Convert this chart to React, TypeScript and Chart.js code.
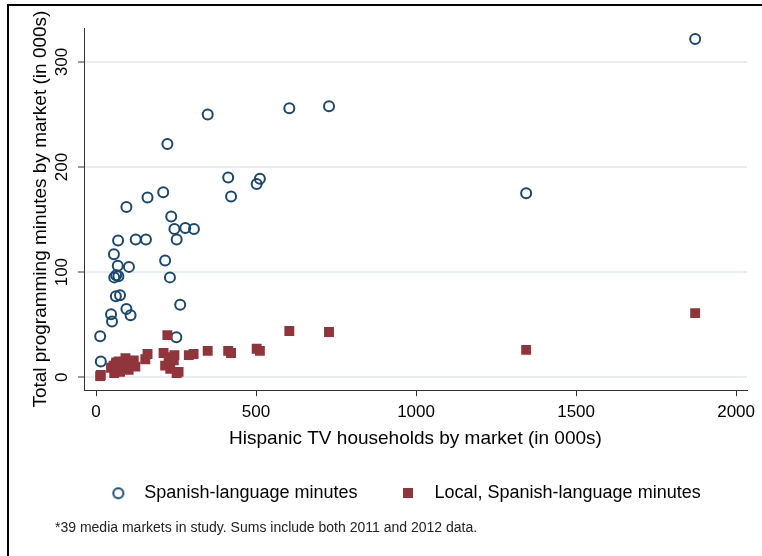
import React, { useEffect, useRef } from "react";
import { Chart, registerables } from "chart.js";

Chart.register(...registerables);

// Spanish-language minutes (hollow circles)
const spanishX = [223, 413, 512, 502, 422, 161, 210, 95, 235, 245, 279, 306, 252, 69, 124, 156, 56, 216, 68, 103, 57, 63, 70, 231, 62, 75, 263, 47, 50, 95, 108, 13, 251, 15, 349, 604, 728, 1344, 1872];
const spanishY = [222, 190, 189, 184, 172, 171, 176, 162, 153, 141, 142, 141, 131, 130, 131, 131, 117, 111, 106, 105, 95, 97, 96, 95, 77, 78, 69, 60, 53, 65, 59, 39, 38, 15, 250, 256, 258, 175, 322];

// Local, Spanish-language minutes (filled squares)
const localX = [15, 55, 71, 92, 86, 102, 118, 123, 66, 47, 62, 75, 108, 57, 154, 161, 211, 227, 243, 232, 258, 252, 216, 223, 290, 305, 349, 413, 422, 502, 512, 604, 728, 1344, 1872, 13, 63, 95, 245];
const localY = [2, 11, 15, 18, 10, 7, 16, 10, 7, 9, 12, 5, 13, 4, 17, 22, 23, 19, 16, 8, 5, 4, 11, 40, 21, 22, 25, 25, 23, 27, 25, 44, 43, 26, 61, 1, 14, 12, 21];

const xTicks = [0, 500, 1000, 1500, 2000];
const yTicks = [0, 100, 200, 300];
const seriesLabels = ["Spanish-language minutes", "Local, Spanish-language minutes"];
const xTitle = "Hispanic TV households by market (in 000s)";
const yTitle = "Total programming minutes by market (in 000s)";
const footnote = "*39 media markets in study. Sums include both 2011 and 2012 data.";

const NAVY = "#1a476f";
const MAROON = "#90353b";
const FONT = "'Liberation Sans', Arial, sans-serif";

export default function App() {
  const ref = useRef<HTMLCanvasElement>(null);

  useEffect(() => {
    const canvas = ref.current!;
    const mk = (w: number, h: number, draw: (g: CanvasRenderingContext2D) => void) => {
      const c = document.createElement("canvas");
      c.width = w;
      c.height = h;
      draw(c.getContext("2d")!);
      return c;
    };
    const circleImg = mk(14, 14, (g) => {
      g.strokeStyle = NAVY;
      g.lineWidth = 2;
      g.beginPath();
      g.arc(7, 7, 5, 0, Math.PI * 2);
      g.stroke();
    });
    const squareImg = mk(10, 10, (g) => {
      g.fillStyle = MAROON;
      g.fillRect(0, 0, 10, 10);
    });

    const chart = new Chart(canvas, {
      type: "scatter",
      data: {
        datasets: [
          {
            label: seriesLabels[0],
            data: spanishX.map((x, i) => ({ x, y: spanishY[i] })),
            pointStyle: "circle",
            pointRadius: 5,
            pointHoverRadius: 5,
            borderColor: NAVY,
            backgroundColor: "rgba(0,0,0,0)",
            pointBorderWidth: 2,
            order: 1,
          },
          {
            label: seriesLabels[1],
            data: localX.map((x, i) => ({ x, y: localY[i] })),
            pointStyle: "rect",
            pointRadius: 7,
            pointHoverRadius: 7,
            backgroundColor: MAROON,
            borderColor: MAROON,
            pointBorderWidth: 0,
            order: 0,
          },
        ],
      },
      options: {
        responsive: false,
        animation: false,
        events: [],
        layout: { padding: { left: 55, right: 15, top: 28, bottom: 19 } },
        plugins: {
          legend: {
            position: "bottom",
            maxHeight: 60,
            labels: {
              usePointStyle: true,
              pointStyleWidth: 34,
              boxHeight: 10,
              padding: 34,
              color: "#000",
              font: { family: FONT, size: 18 },
              sort: (a: any, b: any) => a.datasetIndex - b.datasetIndex,
              generateLabels: (ch: any) => {
                const items = (Chart.defaults.plugins.legend.labels as any).generateLabels(ch);
                return items.map((it: any) => ({
                  ...it,
                  pointStyle: it.datasetIndex === 0 ? circleImg : squareImg,
                }));
              },
            },
          },
          subtitle: {
            display: true,
            position: "bottom",
            align: "start",
            text: footnote,
            color: "#222",
            font: { family: FONT, size: 14, weight: "normal" },
            padding: { top: 10, bottom: 0 },
          },
          tooltip: { enabled: false },
        },
        scales: {
          x: {
            type: "linear",
            min: -37.5,
            max: 2034,
            afterBuildTicks: (s: any) => {
              s.ticks = xTicks.map((v) => ({ value: v }));
            },
            afterFit: (s: any) => {
              s.height = 60;
            },
            grid: { drawOnChartArea: false, drawTicks: true, tickLength: 6, tickColor: "#333", tickWidth: 1 },
            border: { display: true, color: "#333", width: 1 },
            ticks: {
              color: "#000",
              font: { family: FONT, size: 17 },
              padding: 6,
              maxRotation: 0,
              autoSkip: false,
              callback: (v: any) => String(v),
            },
            title: { display: true, text: xTitle, color: "#000", font: { family: FONT, size: 19 }, padding: { top: 0, bottom: 0 } },
          },
          y: {
            type: "linear",
            min: -12.4,
            max: 332.4,
            afterBuildTicks: (s: any) => {
              s.ticks = yTicks.map((v) => ({ value: v }));
            },
            afterFit: (s: any) => {
              s.width = 29;
              // give the long rotated title more room than the plot height
              if (!s.__wrapped) {
                const orig = s.drawTitle;
                s.drawTitle = function () {
                  const t = this.top;
                  const b = this.bottom;
                  this.top = t - 40;
                  this.bottom = b + 40;
                  orig.call(this);
                  this.top = t;
                  this.bottom = b;
                };
                s.__wrapped = true;
              }
            },
            grid: { color: "#e6eef1", lineWidth: 2, drawTicks: true, tickLength: 6, tickColor: "#333", tickWidth: 1 },
            border: { display: true, color: "#333", width: 1 },
            ticks: {
              color: "#000",
              font: { family: FONT, size: 17 },
              minRotation: 90,
              maxRotation: 90,
              crossAlign: "center",
              padding: 2,
              autoSkip: false,
              callback: (v: any) => String(v),
            },
            title: { display: true, text: yTitle, color: "#000", font: { family: FONT, size: 19 }, padding: { top: -25.4, bottom: 0 } },
          },
        },
      } as any,
    });
    return () => chart.destroy();
  }, []);

  return (
    <div style={{ position: "absolute", left: 0, top: 0, width: 762, height: 556, background: "#fff", overflow: "hidden" }}>
      <canvas ref={ref} width={762} height={556} style={{ display: "block" }} />
      <div
        style={{
          position: "absolute",
          left: 7,
          top: 4,
          width: 755,
          height: 552,
          borderTop: "2px solid #000",
          borderLeft: "2px solid #000",
          boxSizing: "border-box",
          pointerEvents: "none",
        }}
      />
    </div>
  );
}
